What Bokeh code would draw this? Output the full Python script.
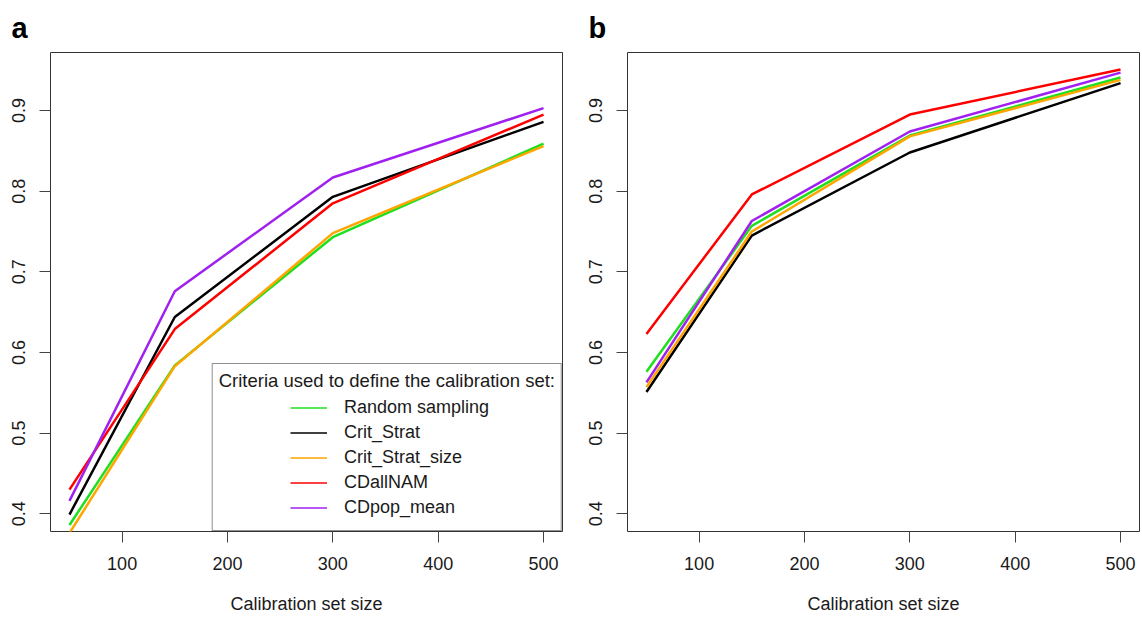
import numpy as np
from bokeh.plotting import figure
from bokeh.models import Range1d, Legend, LegendItem, FixedTicker
from bokeh.layouts import row
from bokeh.embed import file_html
from bokeh.resources import INLINE

# ---------------- data ----------------
sizes = [50, 150, 300, 500]
series_names = ["Random sampling", "Crit_Strat", "Crit_Strat_size", "CDallNAM", "CDpop_mean"]
series_colors = ["#1EE01E", "#000000", "#FFA500", "#FF0000", "#A020F0"]

# panel a
random_a = [0.386, 0.584, 0.743, 0.859]
crit_a = [0.399, 0.644, 0.793, 0.886]
critsize_a = [0.376, 0.583, 0.748, 0.856]
cdall_a = [0.430, 0.629, 0.785, 0.895]
cdpop_a = [0.416, 0.676, 0.817, 0.903]

# panel b
random_b = [0.576, 0.757, 0.869, 0.941]
crit_b = [0.551, 0.745, 0.848, 0.934]
critsize_b = [0.557, 0.750, 0.868, 0.938]
cdall_b = [0.623, 0.796, 0.895, 0.951]
cdpop_b = [0.563, 0.763, 0.874, 0.947]

x_ticks = [100, 200, 300, 400, 500]
y_ticks = [0.4, 0.5, 0.6, 0.7, 0.8, 0.9]
x_label = "Calibration set size"
legend_title = "Criteria used to define the calibration set:"

FONT = "Liberation Sans"
FRAME_W = 512
FRAME_H = 479


def make_panel(letter, series, border_left, border_right, with_legend):
    p = figure(output_backend="svg", toolbar_location=None, tools="",
               frame_width=FRAME_W, frame_height=FRAME_H,
               min_border_left=border_left, min_border_right=border_right,
               min_border_top=52, min_border_bottom=86,
               x_range=Range1d(32, 518), y_range=Range1d(0.378, 0.972))
    p.background_fill_color = "white"
    p.border_fill_color = "white"
    p.outline_line_color = "#333333"
    p.outline_line_width = 1
    p.xgrid.visible = False
    p.ygrid.visible = False

    for ax in (p.xaxis[0], p.yaxis[0]):
        ax.axis_line_color = None
        ax.major_tick_line_color = "#444444"
        ax.major_tick_out = 11
        ax.major_tick_in = 0
        ax.minor_tick_line_color = None
        ax.major_label_text_font = FONT
        ax.major_label_text_font_size = "18px"
        ax.major_label_text_color = "#1a1a1a"
    p.xaxis.ticker = FixedTicker(ticks=x_ticks)
    p.yaxis.ticker = FixedTicker(ticks=y_ticks)
    p.xaxis.major_label_standoff = 14
    p.yaxis.major_label_standoff = 14
    p.yaxis.major_label_orientation = "vertical"
    p.xaxis.axis_label = x_label
    p.xaxis.axis_label_text_font = FONT
    p.xaxis.axis_label_text_font_size = "18px"
    p.xaxis.axis_label_text_font_style = "normal"
    p.xaxis.axis_label_text_color = "#1a1a1a"
    p.xaxis.axis_label_standoff = 21

    # panel letter
    p.title.text = letter
    p.title.align = "left"
    p.title.offset = -39
    p.title.standoff = 18
    p.title.text_font = FONT
    p.title.text_font_size = "29px"
    p.title.text_font_style = "bold"
    p.title.text_color = "black"

    for vals, color in zip(series, series_colors):
        p.line(sizes, vals, line_color=color, line_width=2.5)

    if with_legend:
        nan2 = np.full(2, np.nan)
        dummy = p.line(x=nan2, y=nan2, line_alpha=0)
        box = Legend(items=[LegendItem(label=" ", renderers=[dummy])],
                     title=legend_title, location="bottom_right",
                     padding=6, margin=0, glyph_height=122, label_height=122,
                     glyph_width=1, title_standoff=10,
                     title_text_font=FONT, title_text_font_size="18.5px",
                     title_text_font_style="normal", title_text_color="#1a1a1a",
                     border_line_color="#222222", border_line_width=1,
                     background_fill_color="white", background_fill_alpha=1)
        p.add_layout(box)
        items = []
        for name, color in zip(series_names, series_colors):
            r = p.line(x=nan2, y=nan2, line_color=color, line_width=1.6)
            items.append(LegendItem(label=name, renderers=[r]))
        leg = Legend(items=items, location=(240, 11), padding=0, margin=0,
                     spacing=0, glyph_width=37, glyph_height=25, label_height=25,
                     label_standoff=17, label_text_font=FONT,
                     label_text_font_size="18px", label_text_color="#1a1a1a",
                     border_line_alpha=0, background_fill_alpha=0)
        p.add_layout(leg)
    return p


p1 = make_panel("a", [random_a, crit_a, critsize_a, cdall_a, cdpop_a], 50, 20, True)
p2 = make_panel("b", [random_b, crit_b, critsize_b, cdall_b, cdpop_b], 45, 2, False)

layout = row(p1, p2)
open("out.html", "w").write(file_html(layout, INLINE))
